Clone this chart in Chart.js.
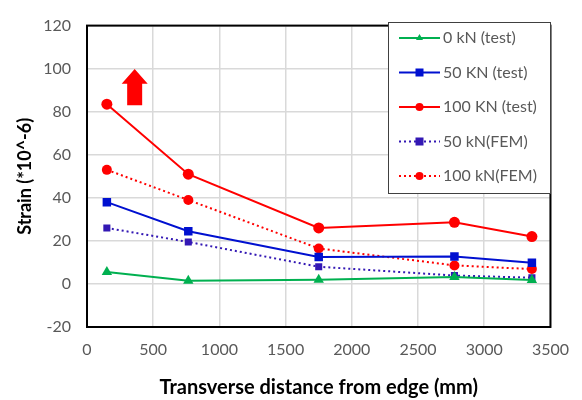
<!DOCTYPE html>
<html lang="en">
<head>
<meta charset="utf-8"/>
<title>Strain vs transverse distance</title>
<script src="https://cdn.jsdelivr.net/npm/chart.js"></script>
<style>
  body { margin: 0; background: #fff; }
  #wrap { width: 582px; height: 400px; }
</style>
</head>
<body>
<div id="wrap"><canvas id="chart"></canvas></div>
<script>
  // data
  const distances = [150, 765, 1750, 2775, 3360];
  const kn0Test = [5.5, 1.5, 2, 3.2, 1.8];
  const kn50Test = [38, 24.5, 12.5, 12.8, 9.8];
  const kn100Test = [83.5, 51, 26, 28.6, 22];
  const kn50Fem = [26, 19.5, 8, 3.9, 2.9];
  const kn100Fem = [53, 39, 16.5, 8.6, 6.9];
  const xTicks = [0, 500, 1000, 1500, 2000, 2500, 3000, 3500];
  const yTicks = [-20, 0, 20, 40, 60, 80, 100, 120];

  const GREEN = '#00b050';
  const BLUE = '#0010d0';
  const RED = '#ff0000';
  const PURPLE = '#3318b4';
  const FONT = 'Lato, "DejaVu Sans", sans-serif';

  function pts(ys) {
    return ys.map((y, i) => ({ x: distances[i], y: y }));
  }

  const series = [
    { label: '0 kN (test)', data: pts(kn0Test), color: GREEN, style: 'triangle', r: 6, dash: [] },
    { label: '50 KN (test)', data: pts(kn50Test), color: BLUE, style: 'rect', r: 6, dash: [] },
    { label: '100 KN (test)', data: pts(kn100Test), color: RED, style: 'circle', r: 5.5, dash: [] },
    { label: '50 kN(FEM)', data: pts(kn50Fem), color: PURPLE, style: 'rect', r: 5, dash: [2, 3] },
    { label: '100 kN(FEM)', data: pts(kn100Fem), color: RED, style: 'circle', r: 5, dash: [2, 3] }
  ];

  // plot frame + red arrow + boxed legend inside the plot
  const extras = {
    id: 'extras',
    afterDraw(chart) {
      const ctx = chart.ctx;
      const a = chart.chartArea;
      const xs = chart.scales.x, ys = chart.scales.y;
      ctx.save();

      // frame
      ctx.strokeStyle = '#000';
      ctx.lineWidth = 2;
      ctx.strokeRect(a.left, a.top, a.right - a.left, a.bottom - a.top);

      // arrow
      const cx = xs.getPixelForValue(360);
      const tip = ys.getPixelForValue(99.8);
      const base = ys.getPixelForValue(83);
      const headBase = ys.getPixelForValue(93);
      ctx.fillStyle = RED;
      ctx.beginPath();
      ctx.moveTo(cx, tip);
      ctx.lineTo(cx + 13, headBase);
      ctx.lineTo(cx + 7.5, headBase);
      ctx.lineTo(cx + 7.5, base);
      ctx.lineTo(cx - 7.5, base);
      ctx.lineTo(cx - 7.5, headBase);
      ctx.lineTo(cx - 13, headBase);
      ctx.closePath();
      ctx.fill();

      // legend
      const lx = 388, ly = 22, lw = 162, lh = 171;
      ctx.fillStyle = '#fff';
      ctx.fillRect(lx, ly, lw, lh);
      ctx.strokeStyle = '#404040';
      ctx.lineWidth = 1;
      ctx.strokeRect(lx + 0.5, ly + 0.5, lw, lh);
      ctx.font = '16px ' + FONT;
      ctx.textBaseline = 'middle';
      series.forEach((s, i) => {
        const y = ly + 16 + i * 34.5;
        ctx.strokeStyle = s.color;
        ctx.lineWidth = 2;
        ctx.setLineDash(s.dash);
        ctx.beginPath();
        ctx.moveTo(399, y);
        ctx.lineTo(440, y);
        ctx.stroke();
        ctx.setLineDash([]);
        ctx.fillStyle = s.color;
        const mx = 419.5;
        if (s.style === 'triangle') {
          ctx.beginPath();
          ctx.moveTo(mx, y - 4);
          ctx.lineTo(mx + 3.5, y + 2);
          ctx.lineTo(mx - 3.5, y + 2);
          ctx.closePath();
          ctx.fill();
        } else if (s.style === 'rect') {
          ctx.fillRect(mx - 4, y - 4, 8, 8);
        } else {
          ctx.beginPath();
          ctx.arc(mx, y, 4, 0, Math.PI * 2);
          ctx.fill();
        }
        ctx.fillStyle = '#595959';
        ctx.fillText(s.label, 443, y);
      });
      ctx.restore();
    }
  };

  new Chart(document.getElementById('chart'), {
    type: 'scatter',
    data: {
      datasets: series.map(s => ({
        label: s.label,
        data: s.data,
        showLine: true,
        borderColor: s.color,
        backgroundColor: s.color,
        borderWidth: 2,
        borderDash: s.dash,
        pointStyle: s.style,
        pointRadius: s.r,
        pointHoverRadius: s.r,
        pointBorderWidth: 0,
        tension: 0
      }))
    },
    options: {
      responsive: true,
      maintainAspectRatio: false,
      animation: false,
      layout: { padding: { left: 0, right: 28, top: 18, bottom: 0 } },
      plugins: { legend: { display: false }, tooltip: { enabled: false } },
      scales: {
        x: {
          type: 'linear',
          min: 0,
          max: 3500,
          afterBuildTicks: s => { s.ticks = xTicks.map(v => ({ value: v })); },
          afterFit: s => { s.height = 73; },
          grid: { color: '#d9d9d9', lineWidth: 1.5, drawTicks: false },
          border: { display: false },
          ticks: { color: '#595959', font: { family: FONT, size: 16 }, padding: 13, callback: v => String(v) },
          title: {
            display: true,
            text: 'Transverse distance from edge (mm)',
            color: '#000',
            font: { family: FONT, size: 20, weight: 'bold' },
            padding: { top: 10, bottom: 0 }
          }
        },
        y: {
          min: -20,
          max: 120,
          afterBuildTicks: s => { s.ticks = yTicks.map(v => ({ value: v })); },
          afterFit: s => { s.width = 87; },
          grid: { color: '#d9d9d9', lineWidth: 1.5, drawTicks: false },
          border: { display: false },
          ticks: { color: '#595959', font: { family: FONT, size: 16 }, padding: 16 },
          title: {
            display: true,
            text: 'Strain (*10^-6)',
            color: '#000',
            font: { family: FONT, size: 18, weight: 'bold' },
            padding: { top: 14, bottom: 6 }
          }
        }
      }
    },
    plugins: [extras]
  });
</script>
</body>
</html>
